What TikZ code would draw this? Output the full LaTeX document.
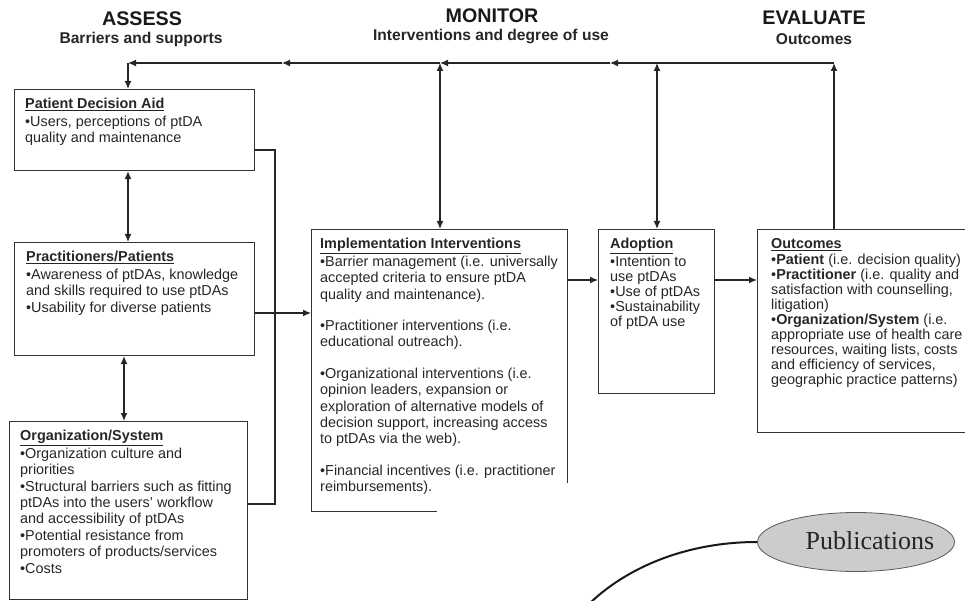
\documentclass[tikz,border=0pt]{standalone}
\usepackage{fontspec}
\setmainfont{Liberation Sans}
\newfontfamily\pubfont{Liberation Serif}
\usetikzlibrary{arrows.meta,shapes.geometric,calc}

\tikzset{
  box/.style = {draw = black!80, line width = 1.1pt, anchor = north west, inner sep = 0pt},
  txt/.style = {anchor = north west, inner sep = 0pt, align = left, text = black!85,
                font = \fontsize{14.4}{16.4}\selectfont},
  tight/.style = {font = \fontsize{14.4}{15}\selectfont},
  head/.style = {font = \bfseries\fontsize{19.7}{22}\selectfont, text = black!90},
  sub/.style = {font = \bfseries\fontsize{15.6}{18}\selectfont, text = black!85},
  link/.style = {line width = 1.3pt, black!85},
  arr/.style = {link, -{Latex[length=8pt,width=7pt]}},
  arrs/.style = {link, {Latex[length=8pt,width=7pt]}-{Latex[length=8pt,width=7pt]}},
}
\newcommand{\ttl}[1]{\underline{\textbf{#1}}\\[1pt]}

\begin{document}
\begin{tikzpicture}[x = 1pt, y = -1pt]
\useasboundingbox (0,0) rectangle (965,601);
\clip (0,0) rectangle (965,601);

% column heads
\node [head] (assess) at (142,19) {ASSESS};
\node [sub] (assesssub) at (141,39) {Barriers and supports};
\node [head] (monitor) at (492,16) {MONITOR};
\node [sub] (monitorsub) at (491,37) {Interventions and degree of use};
\node [head] (evaluate) at (814,18) {EVALUATE};
\node [sub] (evaluatesub) at (814,39) {Outcomes};

% assess boxes
\node [box, minimum width = 240pt, minimum height = 81pt] (pda) at (14,89) {};
\node [txt] (pdatxt) at ($(pda.north west)+(11,9.2)$)
  {\ttl{Patient Decision Aid}
   •Users, perceptions of ptDA\\
   quality and maintenance};
\node [box, minimum width = 240pt, minimum height = 113pt] (prac) at (14,242) {};
\node [txt] (practxt) at ($(prac.north west)+(12,9.2)$)
  {\ttl{Practitioners/Patients}
   •Awareness of ptDAs, knowledge\\
   and skills required to use ptDAs\\
   •Usability for diverse patients};
\node [box, minimum width = 238pt, minimum height = 178pt] (org) at (9,421) {};
\node [txt] (orgtxt) at ($(org.north west)+(11,9.2)$)
  {\ttl{Organization/System}
   •Organization culture and\\
   priorities\\
   •Structural barriers such as fitting\\
   ptDAs into the users' workflow\\
   and accessibility of ptDAs\\
   •Potential resistance from\\
   promoters of products/services\\
   •Costs};

% monitor and evaluate boxes
\node [box, minimum width = 256pt, minimum height = 282pt] (impl) at (311,229) {};
\node [txt] (impltxt) at ($(impl.north west)+(9,9.2)$)
  {\ttl{Implementation Interventions}
   •Barrier management (i.e. universally\\
   accepted criteria to ensure ptDA\\
   quality and maintenance).\\[15pt]
   •Practitioner interventions (i.e.\\
   educational outreach).\\[15pt]
   •Organizational interventions (i.e.\\
   opinion leaders, expansion or\\
   exploration of alternative models of\\
   decision support, increasing access\\
   to ptDAs via the web).\\[15pt]
   •Financial incentives (i.e. practitioner\\
   reimbursements).};
\node [box, minimum width = 116pt, minimum height = 164pt] (adop) at (598,229) {};
\node [txt, tight] (adoptxt) at ($(adop.north west)+(12,9.2)$)
  {\ttl{Adoption}
   •Intention to\\
   use ptDAs\\
   •Use of ptDAs\\
   •Sustainability\\
   of ptDA use};
\node [box, minimum width = 232pt, minimum height = 203pt] (outc) at (757,229) {};
\node [txt, tight] (outctxt) at ($(outc.north west)+(14,9.2)$)
  {\ttl{Outcomes}
   •\textbf{Patient} (i.e. decision quality)\\
   •\textbf{Practitioner} (i.e. quality and\\
   satisfaction with counselling,\\
   litigation)\\
   •\textbf{Organization/System} (i.e.\\
   appropriate use of health care\\
   resources, waiting lists, costs\\
   and efficiency of services,\\
   geographic practice patterns)};

% feedback line along the top
\coordinate (tl) at (128,63);
\coordinate (m1) at (282,63);
\coordinate (m2) at (440,63);
\coordinate (m3) at (610,63);
\coordinate (m4) at (657,63);
\coordinate (tr) at (834,63);
\draw [arr] (tr |- outc.north) -- (tr);
\draw [arr] (tr) -- (m3);
\draw [arr] (m3) -- (m2);
\draw [arr] (m2) -- (m1);
\draw [arr] (m1) -- (tl);
\draw [arr] (tl) -- (pda.north -| tl);
\draw [arrs] (impl.north -| m2) -- (m2);
\draw [arrs] (adop.north -| m4) -- (m4);

% left column links
\coordinate (lv) at (124,0);
\draw [arrs] (pda.south -| tl) -- (prac.north -| tl);
\draw [arrs] (prac.south -| lv) -- (org.north -| lv);
\coordinate (ra) at (275,150);
\coordinate (rb) at (275,313);
\coordinate (rc) at (275,504);
\draw [link] (pda.east |- ra) -- (ra) -- (rc) -- (org.east |- rc);
\draw [link] (prac.east |- rb) -- (rb);
\draw [arr] (rb) -- (impl.west |- rb);

% left to right
\coordinate (ha) at (0,280);
\draw [arr] (impl.east |- ha) -- (adop.west |- ha);
\draw [arr] (adop.east |- ha) -- (outc.west |- ha);

% pasted corner
\fill [white] (437,483) rectangle (966,602);
\node [ellipse, draw = black!65, line width = 0.8pt, fill = black!20,
       minimum width = 197pt, minimum height = 59pt] (pub) at (856,542) {};
\node [font = \pubfont\fontsize{26}{30}\selectfont, text = black!85] (publabel) at (870,541) {Publications};
\draw [line width = 2pt, black!90] (pub.west) .. controls (690,542) and (630,565) .. (590,603);
\end{tikzpicture}
\end{document}
